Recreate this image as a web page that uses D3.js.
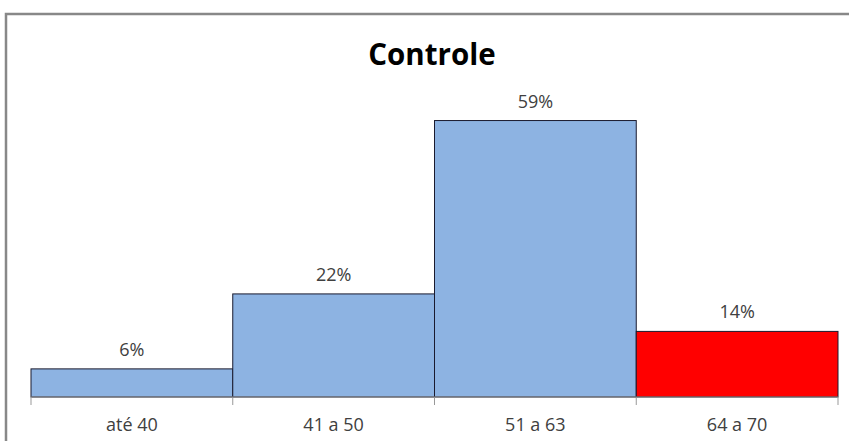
<!DOCTYPE html>
<html>
<head>
<meta charset="utf-8">
<script src="https://cdn.jsdelivr.net/npm/d3@7"></script>
<style>
  html, body { margin: 0; padding: 0; background: #fff; }
  svg { display: block; }
</style>
</head>
<body>
<svg id="chart" width="849" height="441"></svg>
<script>
// Age groups and share of the control group in each
const categories = ["até 40", "41 a 50", "51 a 63", "64 a 70"];
const values = [6, 22, 59, 14];
const barColors = ["#8db3e2", "#8db3e2", "#8db3e2", "#ff0000"];
const title = "Controle";

const svg = d3.select("#chart");
const W = 849, H = 441;
const margin = { left: 31, right: 11, top: 69, bottom: 44 };

// Frame around the chart area
svg.append("path")
  .attr("d", `M6,${H} V14 H${W}`)
  .attr("fill", "none")
  .attr("stroke", "#888")
  .attr("stroke-width", 2.5);

const x = d3.scaleBand()
  .domain(categories)
  .range([margin.left, W - margin.right])
  .paddingInner(0)
  .paddingOuter(0);

const y = d3.scaleLinear()
  .domain([0, 70])
  .range([H - margin.bottom, margin.top]);

// Title
svg.append("text")
  .attr("x", 432)
  .attr("y", 65)
  .attr("text-anchor", "middle")
  .attr("font-family", "'Open Sans', sans-serif")
  .attr("font-weight", "bold")
  .attr("font-size", 29.5)
  .attr("fill", "#000")
  .text(title);

// Bars
svg.append("g")
  .selectAll("rect")
  .data(categories)
  .join("rect")
  .attr("x", d => x(d))
  .attr("y", (d, i) => y(values[i]))
  .attr("width", x.bandwidth())
  .attr("height", (d, i) => y(0) - y(values[i]))
  .attr("fill", (d, i) => barColors[i])
  .attr("stroke", "#1a1a2e")
  .attr("stroke-width", 1);

// Value labels
svg.append("g")
  .selectAll("text")
  .data(categories)
  .join("text")
  .attr("x", d => x(d) + x.bandwidth() / 2)
  .attr("y", (d, i) => y(values[i]) - 13)
  .attr("text-anchor", "middle")
  .attr("font-family", "'Open Sans', sans-serif")
  .attr("font-size", 18)
  .attr("fill", "#404040")
  .text((d, i) => values[i] + "%");

// Category axis with ticks between the bars
const axisY = y(0);
const axisG = svg.append("g").attr("transform", `translate(0,${axisY})`);
axisG.append("line")
  .attr("x1", margin.left).attr("x2", W - margin.right)
  .attr("y1", 0).attr("y2", 0)
  .attr("stroke", "#888").attr("stroke-width", 1);

const boundaries = categories.map(c => x(c)).concat([x(categories[categories.length - 1]) + x.bandwidth()]);
axisG.selectAll("line.tick")
  .data(boundaries)
  .join("line")
  .attr("class", "tick")
  .attr("x1", d => d).attr("x2", d => d)
  .attr("y1", 0).attr("y2", 8)
  .attr("stroke", "#999").attr("stroke-width", 1);

axisG.selectAll("text")
  .data(categories)
  .join("text")
  .attr("x", d => x(d) + x.bandwidth() / 2)
  .attr("y", 34)
  .attr("text-anchor", "middle")
  .attr("font-family", "'Open Sans', sans-serif")
  .attr("font-size", 18)
  .attr("fill", "#404040")
  .text(d => d);
</script>
</body>
</html>
